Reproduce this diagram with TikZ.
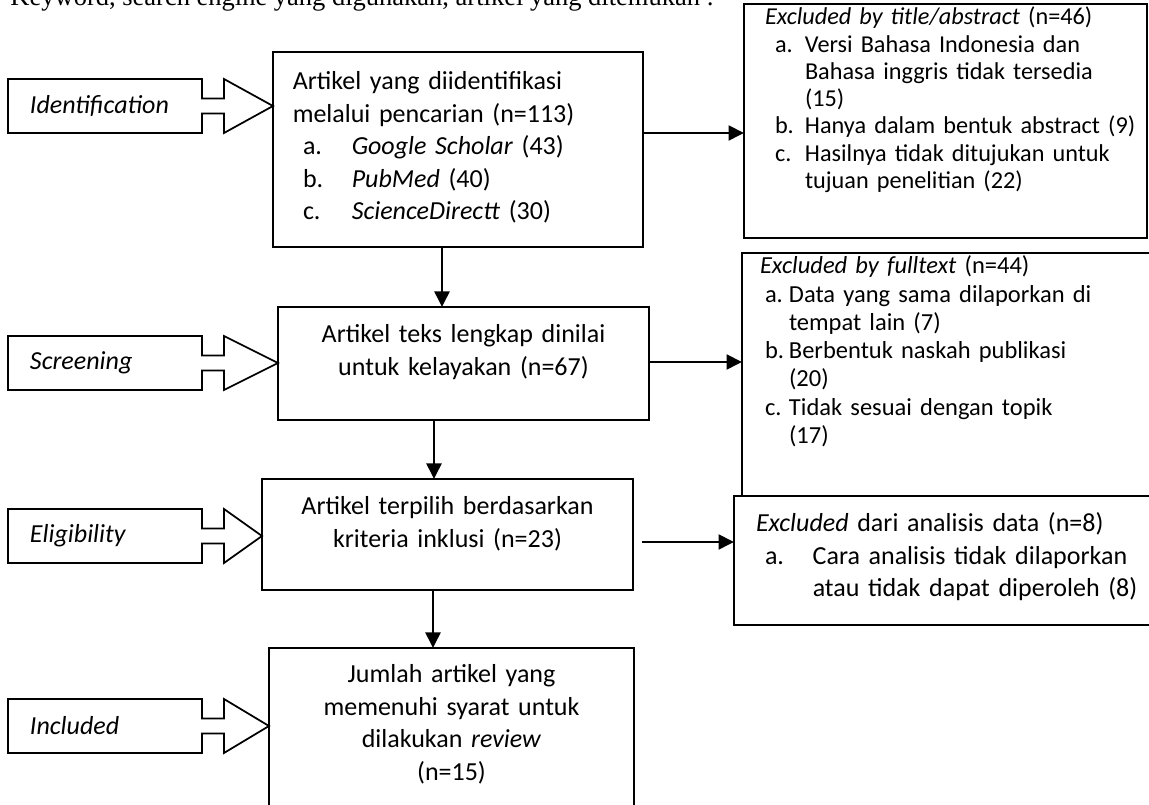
\documentclass[tikz,border=0pt]{standalone}
\usepackage{fontspec}
\setmainfont{Carlito}
\newfontfamily\timesfont{Liberation Serif}
\usetikzlibrary{calc,arrows.meta}
\newcommand{\itemlab}[3]{\hspace*{#1}\makebox[#2][l]{#3}}

\begin{document}
\begin{tikzpicture}[x=0.4pt, y=-0.4pt,
    mainbox/.style={draw, line width=0.7pt, anchor=north west, inner sep=0pt, outer sep=0pt,
      text height=14.4pt, font=\fontsize{10.4}{13}\selectfont},
    listbox/.style={mainbox, align=left, execute at begin node={\leftskip=#1}},
    tag/.style={anchor=north west, inner sep=0pt, outer sep=0pt, minimum height=21.6pt, text width=77.6pt,
      align=left, execute at begin node={\leftskip=8.8pt}, font=\fontsize{10.4}{13}\selectfont\itshape},
    blockarrow/.style={line width=0.7pt},
    arr/.style={line width=0.8pt, -{Triangle[length=6.2pt, width=6pt]}}]
    \useasboundingbox (0,0) rectangle (1149,805);
    \clip (0,0) rectangle (1149,805);

    \node[anchor=base west, inner sep=0pt, font=\timesfont\fontsize{10.6}{13}\selectfont] (K) at (10,6)
      {Keyword, search engine yang digunakan, artikel yang ditemukan :};

    \node[listbox=7.9pt, text width=148pt, text height=15.2pt, text depth=62.8pt] (A) at (273,52)
      {Artikel yang diidentifikasi\\
       melalui pencarian (n=113)\\
       \itemlab{4.1pt}{19.5pt}{a.}\textit{Google Scholar} (43)\\
       \itemlab{4.1pt}{19.5pt}{b.}\textit{PubMed} (40)\\
       \itemlab{4.1pt}{19.5pt}{c.}\textit{ScienceDirectt} (30)};
    \node[mainbox, align=center, text width=148.4pt, text depth=30.8pt] (B) at (278,307)
      {Artikel teks lengkap dinilai\\untuk kelayakan (n=67)};
    \node[mainbox, align=center, text width=148.4pt, text depth=30pt] (C) at (262,479)
      {Artikel terpilih berdasarkan\\kriteria inklusi (n=23)};
    \node[mainbox, align=center, text width=146pt, text height=14pt, text depth=58.8pt] (D) at (269,648)
      {Jumlah artikel yang\\memenuhi syarat untuk\\dilakukan \textit{review}\\(n=15)};

    \node[listbox=8.4pt, font=\fontsize{9.7}{10.9}\selectfont, text width=161.2pt, text height=8.4pt, text depth=85.2pt] (E1) at (744,4)
      {\textit{Excluded by title/abstract} (n=46)\\
       \itemlab{4pt}{12pt}{a.}Versi Bahasa Indonesia dan\\
       \hspace*{16pt}Bahasa inggris tidak tersedia\\
       \hspace*{16pt}(15)\\
       \itemlab{4pt}{12pt}{b.}Hanya dalam bentuk abstract (9)\\
       \itemlab{4pt}{12pt}{c.}Hasilnya tidak ditujukan untuk\\
       \hspace*{16pt}tujuan penelitian (22)};
    \node[listbox=7.2pt, font=\fontsize{9.8}{11.3}\selectfont, text width=167.2pt, text height=8.4pt, text depth=88.8pt] (E2) at (742,253)
      {\textit{Excluded by fulltext} (n=44)\\
       \itemlab{2pt}{9.6pt}{a.}Data yang sama dilaporkan di\\
       \hspace*{11.6pt}tempat lain (7)\\
       \itemlab{2pt}{9.6pt}{b.}Berbentuk naskah publikasi\\
       \hspace*{11.6pt}(20)\\
       \itemlab{2pt}{9.6pt}{c.}Tidak sesuai dengan topik\\
       \hspace*{11.6pt}(17)};
    \node[listbox=8.8pt, text width=170.4pt, text height=14.3pt, text depth=37.3pt] (E3) at (734,496)
      {\textit{Excluded} dari analisis data (n=8)\\
       \itemlab{3.6pt}{19.1pt}{a.}Cara analisis tidak dilaporkan\\
       \hspace*{22.7pt}atau tidak dapat diperoleh (8)};

    \node[tag] (L1) at (8,79) {Identification};
    \node[tag] (L2) at (8,336) {Screening};
    \node[tag] (L3) at (8,509) {Eligibility};
    \node[tag] (L4) at (8,699) {Included};

    \draw[blockarrow] (L1.north west) -- (L1.north east) -- ++(0,19.5) -- ++(22,0) -- ++(0,-19.5)
      -- (L1.east -| A.west) -- ($(L1.south east)+(22,0)$) -- ++(0,-19.5) -- ++(-22,0)
      -- (L1.south east) -- (L1.south west) -- cycle;
    \draw[blockarrow] (L2.north west) -- (L2.north east) -- ++(0,19.5) -- ++(22,0) -- ++(0,-19.5)
      -- (L2.east -| B.west) -- ($(L2.south east)+(22,0)$) -- ++(0,-19.5) -- ++(-22,0)
      -- (L2.south east) -- (L2.south west) -- cycle;
    \draw[blockarrow] (L3.north west) -- (L3.north east) -- ++(0,19.5) -- ++(22,0) -- ++(0,-19.5)
      -- (L3.east -| C.west) -- ($(L3.south east)+(22,0)$) -- ++(0,-19.5) -- ++(-22,0)
      -- (L3.south east) -- (L3.south west) -- cycle;
    \draw[blockarrow] (L4.north west) -- (L4.north east) -- ++(0,19.5) -- ++(22,0) -- ++(0,-19.5)
      -- (L4.east -| D.west) -- ($(L4.south east)+(22,0)$) -- ++(0,-19.5) -- ++(-22,0)
      -- (L4.south east) -- (L4.south west) -- cycle;

    \draw[arr] ($(A.south west)+(169,0)$) coordinate (a1) -- (a1 |- B.north);
    \draw[arr] ($(A.north east)+(0,81)$) coordinate (a2) -- (a2 -| E1.west);
    \draw[arr] ($(B.south west)+(156,0)$) coordinate (b1) -- (b1 |- C.north);
    \draw[arr] ($(B.north east)+(0,55)$) coordinate (b2) -- (b2 -| E2.west);
    \draw[arr] ($(C.south west)+(171,0)$) coordinate (c1) -- (c1 |- D.north);
    \draw[arr] ($(C.north east)+(9,63)$) coordinate (c2) -- (c2 -| E3.west);
\end{tikzpicture}
\end{document}
